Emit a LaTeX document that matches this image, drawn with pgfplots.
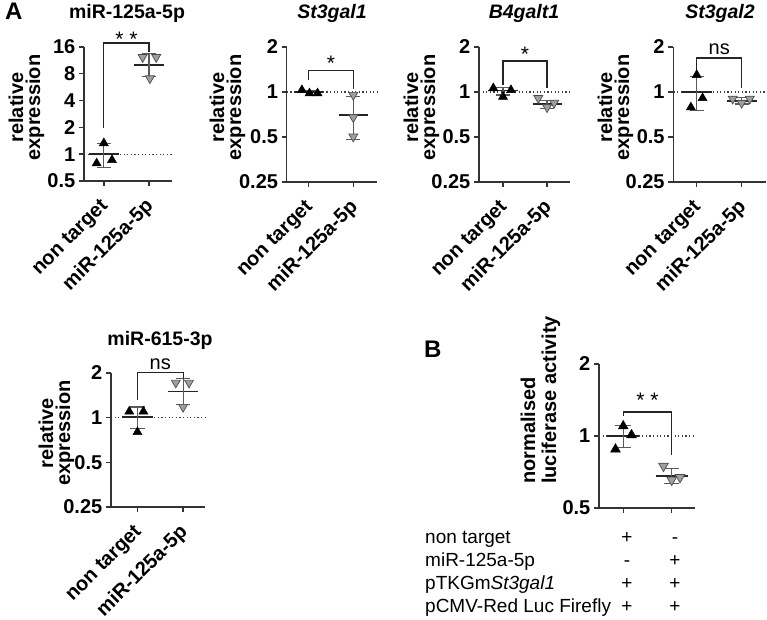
\documentclass[border=0pt]{standalone}
\usepackage{fontspec}
\setmainfont{Liberation Sans}
\usepackage{pgfplots}
\pgfplotsset{compat=1.18}
\newcommand\fs[1]{\fontsize{#1}{#1}\selectfont}
\pgfplotsset{
  mypanel/.style={
    y coord trafo/.code={\pgfmathparse{log2(##1)}},
    scale only axis, clip=false,
    axis x line*=bottom, axis y line*=left,
    axis line style={line width=1.4pt, black!80},
    tick style={line width=1.4pt, black!80},
    tick align=outside, major tick length=5pt,
    xtick={0,1}, xticklabels={non target, miR-125a-5p},
    xticklabel style={xshift=4pt, yshift=-15pt, rotate=45, anchor=east, font=\bfseries\fs{20}},
    yticklabel style={font=\bfseries\fs{20}, inner sep=3.5pt},
    minor tick num=0,
  },
  tup/.style={only marks, mark=triangle*, mark size=5.2pt, mark options={fill=black, draw=black, line width=0.5pt}},
  tdown/.style={only marks, mark=triangle*, mark size=5.2pt, mark options={rotate=180, fill=gray!75, draw=black!70, line width=0.7pt}},
  meanl/.style={black!85, line width=1.4pt, no marks},
  errl/.style={black!65, line width=1.2pt, no marks},
  brk/.style={black!85, line width=1.2pt, no marks},
  refl/.style={black!75, line width=1.1pt, dash pattern=on 1.2pt off 2.4pt, no marks},
}
\begin{document}
\begin{tikzpicture}[x=1pt,y=1pt]
\useasboundingbox (0,0) rectangle (767,620);

% ---------- Panel 1: miR-125a-5p
\begin{axis}[mypanel, anchor=south west, at={(84pt,439pt)}, width=88pt, height=134pt,
  xmin=-0.44, xmax=1.51, ymin=0.5, ymax=16,
  ytick={0.5,1,2,4,8,16}, yticklabels={0.5,1,2,4,8,16}]
\addplot[refl] coordinates {(-0.44,1) (1.51,1)};
\addplot[tup] coordinates {(0,1.33) (-0.16,0.79) (0.18,0.86)};
\addplot[tdown] coordinates {(0.86,12.3) (1.16,12.3) (1.02,7.1)};
\addplot[meanl] coordinates {(-0.33,1.01) (0.33,1.01)};
\addplot[errl] coordinates {(0,0.71) (0,1.33)};
\addplot[errl] coordinates {(-0.16,0.71) (0.16,0.71)};
\addplot[errl] coordinates {(-0.16,1.33) (0.16,1.33)};
\addplot[meanl] coordinates {(0.67,10.0) (1.33,10.0)};
\addplot[errl] coordinates {(1,7.5) (1,13.4)};
\addplot[errl] coordinates {(0.84,7.5) (1.16,7.5)};
\addplot[errl] coordinates {(0.84,13.4) (1.16,13.4)};
\addplot[brk] coordinates {(0,1.97) (0,17.75) (1,17.75) (1,14.2)};
\node[anchor=base, inner sep=0, font=\fs{21}] at (axis cs:0.5,16) {* *};
\end{axis}

% ---------- Panel 2: St3gal1
\begin{axis}[mypanel, anchor=south west, at={(286.7pt,438pt)}, width=90.3pt, height=135pt,
  xmin=-0.49, xmax=1.53, ymin=0.25, ymax=2,
  ytick={0.25,0.5,1,2}, yticklabels={0.25,0.5,1,2}]
\addplot[refl] coordinates {(-0.49,1) (1.53,1)};
\addplot[tup] coordinates {(-0.15,1.03) (0.02,0.98) (0.2,0.98)};
\addplot[tdown] coordinates {(1,0.955) (1,0.677) (1,0.503)};
\addplot[meanl] coordinates {(-0.33,1.0) (0.33,1.0)};
\addplot[errl] coordinates {(-0.16,1.02) (0.16,1.02)};
\addplot[meanl] coordinates {(0.67,0.70) (1.33,0.70)};
\addplot[errl] coordinates {(1,0.48) (1,0.93)};
\addplot[errl] coordinates {(0.84,0.48) (1.16,0.48)};
\addplot[errl] coordinates {(0.84,0.93) (1.16,0.93)};
\addplot[brk] coordinates {(0,1.2) (0,1.39) (1,1.39) (1,1.05)};
\node[anchor=base, inner sep=0, font=\fs{21}] at (axis cs:0.5,1.39) {*};
\end{axis}

% ---------- Panel 3: B4galt1
\begin{axis}[mypanel, anchor=south west, at={(479pt,438pt)}, width=91pt, height=135pt,
  xmin=-0.545, xmax=1.52, ymin=0.25, ymax=2,
  ytick={0.25,0.5,1,2}, yticklabels={0.25,0.5,1,2}]
\addplot[refl] coordinates {(-0.545,1) (1.52,1)};
\addplot[tup] coordinates {(-0.22,1.06) (0,0.93) (0.18,1.03)};
\addplot[tdown] coordinates {(0.8,0.91) (1,0.79) (1.16,0.845)};
\addplot[meanl] coordinates {(-0.33,1.02) (0.33,1.02)};
\addplot[errl] coordinates {(0,0.955) (0,1.07)};
\addplot[errl] coordinates {(-0.16,0.955) (0.16,0.955)};
\addplot[errl] coordinates {(-0.16,1.07) (0.16,1.07)};
\addplot[meanl] coordinates {(0.67,0.83) (1.33,0.83)};
\addplot[errl] coordinates {(1,0.78) (1,0.88)};
\addplot[errl] coordinates {(0.84,0.78) (1.16,0.78)};
\addplot[errl] coordinates {(0.84,0.88) (1.16,0.88)};
\addplot[brk] coordinates {(0,1.11) (0,1.61) (1,1.61) (1,1.06)};
\node[anchor=base, inner sep=0, font=\fs{21}] at (axis cs:0.5,1.61) {*};
\end{axis}

% ---------- Panel 4: St3gal2
\begin{axis}[mypanel, anchor=south west, at={(673.3pt,438pt)}, width=92.7pt, height=135pt,
  xmin=-0.52, xmax=1.54, ymin=0.25, ymax=2,
  ytick={0.25,0.5,1,2}, yticklabels={0.25,0.5,1,2}]
\addplot[refl] coordinates {(-0.52,1) (1.54,1)};
\addplot[tup] coordinates {(0,1.30) (-0.13,0.79) (0.13,0.91)};
\addplot[tdown] coordinates {(0.8,0.9) (1,0.845) (1.18,0.9)};
\addplot[meanl] coordinates {(-0.33,1.0) (0.33,1.0)};
\addplot[errl] coordinates {(0,0.75) (0,1.27)};
\addplot[errl] coordinates {(-0.16,0.75) (0.16,0.75)};
\addplot[errl] coordinates {(-0.16,1.27) (0.16,1.27)};
\addplot[meanl] coordinates {(0.67,0.87) (1.33,0.87)};
\addplot[errl] coordinates {(1,0.83) (1,0.915)};
\addplot[errl] coordinates {(0.84,0.83) (1.16,0.83)};
\addplot[errl] coordinates {(0.84,0.915) (1.16,0.915)};
\addplot[brk] coordinates {(0,1.36) (0,1.69) (1,1.69) (1,1.06)};
\node[anchor=base, inner sep=0, font=\fs{20}] at (axis cs:0.5,1.77) {ns};
\end{axis}

% ---------- Panel 5: miR-615-3p
\begin{axis}[mypanel, anchor=south west, at={(111pt,113pt)}, width=94pt, height=134pt,
  xmin=-0.58, xmax=1.48, ymin=0.25, ymax=2,
  ytick={0.25,0.5,1,2}, yticklabels={0.25,0.5,1,2}]
\addplot[refl] coordinates {(-0.58,1) (1.48,1)};
\addplot[tup] coordinates {(-0.18,1.10) (0.13,1.10) (0,0.80)};
\addplot[tdown] coordinates {(0.84,1.72) (1.13,1.72) (1,1.18)};
\addplot[meanl] coordinates {(-0.33,1.01) (0.33,1.01)};
\addplot[errl] coordinates {(0,0.84) (0,1.18)};
\addplot[errl] coordinates {(-0.16,0.84) (0.16,0.84)};
\addplot[errl] coordinates {(-0.16,1.18) (0.16,1.18)};
\addplot[meanl] coordinates {(0.67,1.5) (1.33,1.5)};
\addplot[errl] coordinates {(1,1.22) (1,1.84)};
\addplot[errl] coordinates {(0.84,1.22) (1.16,1.22)};
\addplot[errl] coordinates {(0.84,1.84) (1.16,1.84)};
\addplot[brk] coordinates {(0,1.32) (0,2.01) (1,2.01) (1,1.82)};
\node[anchor=base, inner sep=0, font=\fs{20}] at (axis cs:0.5,2.1) {ns};
\end{axis}

% ---------- Panel B
\begin{axis}[mypanel, anchor=south west, at={(599pt,112pt)}, width=96pt, height=144pt,
  xmin=-0.50, xmax=1.48, ymin=0.5, ymax=2,
  ytick={0.5,1,2}, yticklabels={0.5,1,2}, xticklabels={,}]
\addplot[refl] coordinates {(-0.50,1) (1.48,1)};
\addplot[tup, mark size=5.6pt] coordinates {(0,1.10) (0.17,1.01) (-0.16,0.88)};
\addplot[tdown, mark size=5.6pt] coordinates {(0.83,0.749) (1,0.655) (1.17,0.672)};
\addplot[meanl] coordinates {(-0.33,1.0) (0.33,1.0)};
\addplot[errl] coordinates {(0,0.894) (0,1.11)};
\addplot[errl] coordinates {(-0.16,0.894) (0.16,0.894)};
\addplot[errl] coordinates {(-0.16,1.11) (0.16,1.11)};
\addplot[meanl] coordinates {(0.67,0.68) (1.33,0.68)};
\addplot[errl] coordinates {(1,0.634) (1,0.733)};
\addplot[errl] coordinates {(0.84,0.634) (1.16,0.634)};
\addplot[errl] coordinates {(0.84,0.733) (1.16,0.733)};
\addplot[brk] coordinates {(0,1.21) (0,1.26) (1,1.26) (1,0.833)};
\node[anchor=base, inner sep=0, font=\fs{21}] at (axis cs:0.5,1.32) {* *};
\end{axis}

% ---------- titles
\begin{scope}[every node/.style={inner sep=0}]
\node[anchor=base west, font=\bfseries\fs{24}] at (5,600) {A};
\node[anchor=base west, font=\bfseries\fs{24}] at (424,262) {B};
\node[anchor=base, font=\bfseries\fs{19.5}] at (127,601) {miR-125a-5p};
\node[anchor=base, font=\bfseries\itshape\fs{19.5}] at (332,601) {St3gal1};
\node[anchor=base, font=\bfseries\itshape\fs{19.5}] at (524,601) {B4galt1};
\node[anchor=base, font=\bfseries\itshape\fs{19.5}] at (720,601) {St3gal2};
\node[anchor=base, font=\bfseries\fs{19.5}] at (160,274) {miR-615-3p};
% y labels
\foreach \xa/\xb/\yc in {23/40/512.5, 224/241/512.5, 418/435/512.5, 612/629/512.5, 53/70/187}{
  \node[anchor=base, rotate=90, font=\bfseries\fs{20}] at (\xa,\yc) {relative};
  \node[anchor=base, rotate=90, font=\bfseries\fs{20}] at (\xb,\yc) {expression};
}
\node[anchor=base west, rotate=90, font=\bfseries\fs{20}] at (535,136) {normalised};
\node[anchor=base west, rotate=90, font=\bfseries\fs{20}] at (556,136) {luciferase activity};
% table
\node[anchor=base west, font=\fs{19}] at (425,76) {non target};
\node[anchor=base west, font=\fs{19}] at (425,53) {miR-125a-5p};
\node[anchor=base west, font=\fs{19}] at (425,30) {pTKGm\textit{St3gal1}};
\node[anchor=base west, font=\fs{19}] at (425,8) {pCMV-Red Luc Firefly};
\foreach \s/\t/\yy in {+/-/76, -/+/53, +/+/30, +/+/8}{
  \node[anchor=base, font=\fs{19}] at (627,\yy) {\s};
  \node[anchor=base, font=\fs{19}] at (675,\yy) {\t};
}
\end{scope}
\end{tikzpicture}
\end{document}
